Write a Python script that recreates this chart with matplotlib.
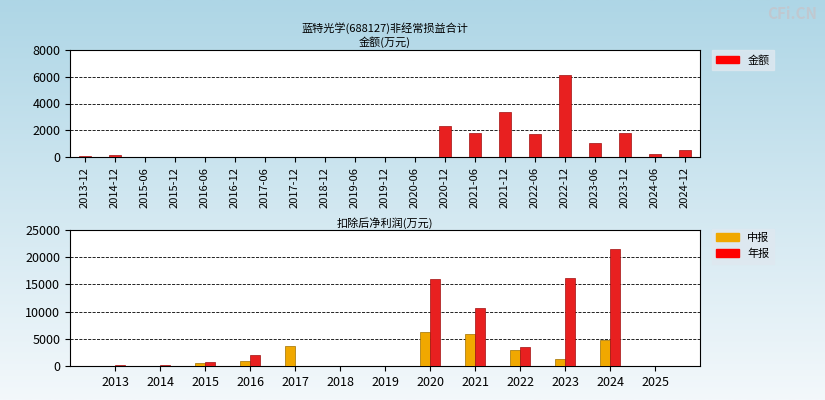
import matplotlib.pyplot as plt
import numpy as np
from matplotlib.patches import Patch

plt.rcParams['font.family'] = 'Noto Sans CJK SC'

top_cats = ['2013-12', '2014-12', '2015-06', '2015-12', '2016-06', '2016-12', '2017-06',
            '2017-12', '2018-12', '2019-06', '2019-12', '2020-06', '2020-12', '2021-06',
            '2021-12', '2022-06', '2022-12', '2023-06', '2023-12', '2024-06', '2024-12']
top_vals = [100, 120, 0, 0, 0, 0, 0, 0, 0, 0, 0, 0, 2300, 1800, 3400, 1750, 6150, 1050, 1800, 200, 550]

years = ['2013', '2014', '2015', '2016', '2017', '2018', '2019', '2020', '2021', '2022', '2023', '2024', '2025']
mid_vals = [0, 0, 500, 900, 3600, 0, 0, 6300, 5900, 2900, 1200, 4800, 0]
year_vals = [100, 150, 700, 2100, 0, 0, 0, 16000, 10600, 3500, 16200, 21500, 0]

fig = plt.figure(figsize=(8.25, 4.0), dpi=100)
# light blue gradient background
bg = fig.add_axes([0, 0, 1, 1], zorder=-10)
grad = np.linspace(0, 1, 256).reshape(-1, 1)
bg.imshow(grad, aspect='auto', cmap=plt.matplotlib.colors.LinearSegmentedColormap.from_list(
    'g', ['#aed6e6', '#f3f8fb']), extent=[0, 1, 0, 1])
bg.axis('off')

ax1 = fig.add_axes([70 / 825, 1 - 157 / 400, 630 / 825, 107 / 400])
x = np.arange(len(top_cats))
ax1.bar(x, top_vals, width=0.4, color='#e82020', edgecolor='#a01010', lw=0.5, zorder=3)
ax1.set_xlim(-0.5, len(top_cats) - 0.5)
ax1.set_ylim(0, 8000)
ax1.set_yticks(range(0, 8001, 2000))
ax1.set_xticks(x)
ax1.set_xticklabels(top_cats, rotation=90, fontsize=8)
ax1.tick_params(axis='y', labelsize=9)
ax1.grid(axis='y', color='black', ls='--', lw=0.6)
ax1.set_title('蓝特光学(688127)非经常损益合计\n金额(万元)', fontsize=8, pad=3)
ax1.legend(handles=[Patch(color='#ff0000', label='金额')], loc='upper left',
           bbox_to_anchor=(1.01, 1.05), fontsize=8, frameon=True, fancybox=False,
           facecolor='#dfe8f0', edgecolor='#dfe8f0')

ax2 = fig.add_axes([70 / 825, 1 - 366 / 400, 630 / 825, 136 / 400])
x2 = np.arange(len(years))
ax2.bar(x2 - 0.11, mid_vals, width=0.22, color='#f0a800', edgecolor='#a07000', lw=0.5, zorder=3)
ax2.bar(x2 + 0.11, year_vals, width=0.22, color='#e82020', edgecolor='#a01010', lw=0.5, zorder=3)
ax2.set_xlim(-1, len(years))
ax2.set_ylim(0, 25000)
ax2.set_yticks(range(0, 25001, 5000))
ax2.set_xticks(x2)
ax2.set_xticklabels(years, fontsize=9)
ax2.tick_params(axis='y', labelsize=9)
ax2.grid(axis='y', color='black', ls='--', lw=0.6)
ax2.set_title('扣除后净利润(万元)', fontsize=8, pad=2)
ax2.legend(handles=[Patch(color='#f0a800', label='中报'), Patch(color='#ff0000', label='年报')],
           loc='upper left', bbox_to_anchor=(1.01, 1.05), fontsize=8, frameon=True,
           fancybox=False, facecolor='#dfe8f0', edgecolor='#dfe8f0')

fig.text(0.99, 0.985, 'CFi.CN', ha='right', va='top', fontsize=11, color='#c0c8d0', fontweight='bold')
fig.savefig('out.png', dpi=100)
